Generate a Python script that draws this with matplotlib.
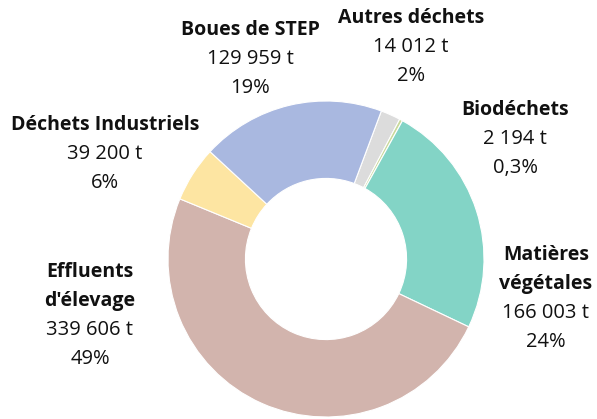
import matplotlib
matplotlib.use("Agg")
import matplotlib.pyplot as plt

categories = ["Autres déchets", "Biodéchets", "Matières\nvégétales", "Effluents\nd'élevage",
              "Déchets Industriels", "Boues de STEP"]
values = [14012, 2194, 166003, 339606, 39200, 129959]
value_labels = ["14 012 t", "2 194 t", "166 003 t", "339 606 t", "39 200 t", "129 959 t"]
pct_labels = ["2%", "0,3%", "24%", "49%", "6%", "19%"]
colors = ["#DCDCDC", "#C9D99B", "#83D4C6", "#D2B4AD", "#FDE5A2", "#A9B8E0"]

W, H = 597, 419
cx, cy, R = 326, 259, 158

fig = plt.figure(figsize=(W / 100, H / 100), dpi=100)
ax = fig.add_axes([0, 0, 1, 1])
ax.pie(values, colors=colors, startangle=69.5, counterclock=False, radius=1,
       wedgeprops=dict(width=0.49, edgecolor="white", linewidth=0.8))
ax.set_xlim(-cx / R, (W - cx) / R)
ax.set_ylim((cy - H) / R, cy / R)
ax.set_aspect("equal")
ax.axis("off")

def px(x, y):
    return (x - cx) / R, (cy - y) / R

# label anchor positions in pixels (center x, top-line y)
label_pos = [(411, 18), (515, 110), (546, 255), (90, 272), (105, 125), (250, 30)]
step = 29
font = "Open Sans"
for name, val, pct, (x, y) in zip(categories, value_labels, pct_labels, label_pos):
    lines = name.split("\n")
    k = 0
    for ln in lines:
        ax.text(*px(x, y + k * step), ln, ha="center", va="center", fontsize=14,
                fontweight="bold", family=font, color="#111111")
        k += 1
    ax.text(*px(x, y + k * step), val, ha="center", va="center", fontsize=14.5,
            family=font, color="#111111")
    k += 1
    ax.text(*px(x, y + k * step), pct, ha="center", va="center", fontsize=14.5,
            family=font, color="#111111")

fig.savefig("out.png", dpi=100)
